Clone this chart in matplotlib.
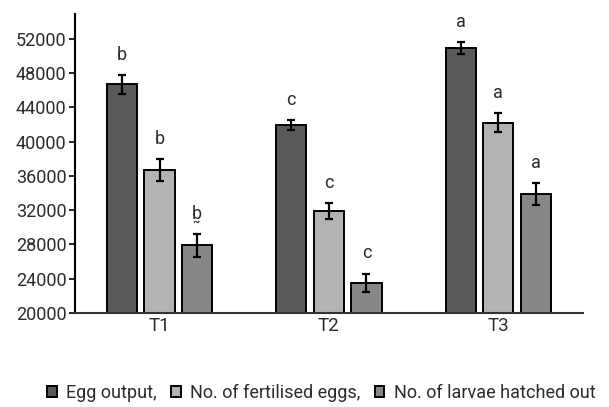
import matplotlib
matplotlib.use("Agg")
import matplotlib.pyplot as plt
import numpy as np
from matplotlib.patches import Patch

plt.rcParams['font.family'] = ['Roboto', 'DejaVu Sans']

categories = ["T1", "T2", "T3"]
series_names = ["Egg output,", "No. of fertilised eggs,", "No. of larvae hatched out"]
egg_output = [46700, 41900, 50900]
fertilised = [36700, 31900, 42200]
hatched = [27900, 23500, 33900]
egg_err = [1100, 600, 700]
fert_err = [1250, 950, 1100]
hatch_err = [1350, 1100, 1250]
egg_letters = ["b", "c", "a"]
fert_letters = ["b", "c", "a"]
hatch_letters = ["b\u0330", "c", "a"]
yticks = [20000, 24000, 28000, 32000, 36000, 40000, 44000, 48000, 52000]

colors = ["#595959", "#b3b3b3", "#878787"]
txt = "#2b2b2b"

fig = plt.figure(figsize=(6.09, 4.07), dpi=100)
ax = fig.add_axes([0.123, 0.231, 0.834, 0.735])

x = np.arange(len(categories))
width = 0.178
step = 0.222
vals = [egg_output, fertilised, hatched]
errs = [egg_err, fert_err, hatch_err]
lets = [egg_letters, fert_letters, hatch_letters]
for i in range(3):
    xs = x + (i - 1) * step
    ax.bar(xs, vals[i], width, bottom=0, color=colors[i], edgecolor="black", linewidth=1.4, zorder=2)
    ax.errorbar(xs, vals[i], yerr=errs[i], fmt="none", ecolor="black", elinewidth=1.6, capsize=3, capthick=1.6, zorder=3)
    for xx, v, e, l in zip(xs, vals[i], errs[i], lets[i]):
        ax.text(xx, v + e + 1300, l, ha="center", va="bottom", fontsize=13, color=txt)

ax.set_xlim(-0.5, 2.5)
ax.set_ylim(20000, 54900)
ax.set_yticks(yticks)
ax.set_yticklabels([str(t) for t in yticks])
ax.set_xticks(x)
ax.set_xticklabels(categories)
ax.tick_params(axis="x", length=0, labelsize=13.5, pad=3, labelcolor=txt)
ax.tick_params(axis="y", length=4, width=1.2, direction="out", labelsize=13, labelcolor=txt, pad=2)
ax.spines["top"].set_visible(False)
ax.spines["right"].set_visible(False)
ax.spines["left"].set_linewidth(1.5)
ax.spines["bottom"].set_linewidth(1.5)
ax.spines["bottom"].set_color("#333333")

handles = [Patch(facecolor=c, edgecolor="black", linewidth=1.4) for c in colors]
leg = fig.legend(handles, series_names, loc="center", bbox_to_anchor=(0.527, 0.034), ncol=3,
                 frameon=False, fontsize=13, handlelength=0.55, handleheight=0.55,
                 handletextpad=0.5, columnspacing=0.8)
for t in leg.get_texts():
    t.set_color(txt)

fig.savefig("out.png", dpi=100)
